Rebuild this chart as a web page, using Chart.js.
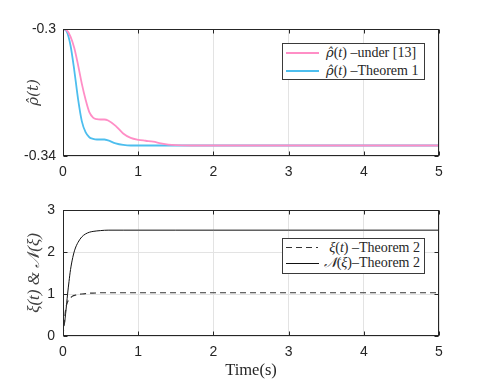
<!DOCTYPE html>
<html>
<head>
<meta charset="utf-8">
<script src="https://cdn.jsdelivr.net/npm/chart.js@4.4.1/dist/chart.umd.min.js"></script>
<style>
  body { margin: 0; background: #fff; width: 486px; height: 382px; overflow: hidden; position: relative; }
  .wrap { position: absolute; left: 0; width: 486px; }
  .lg-box { position: absolute; box-sizing: border-box; border: 1px solid #3a3a3a; background: #fff; }
  .lg-line { position: absolute; height: 0; }
  .lg-text { position: absolute; font-family: "Liberation Serif", serif; font-size: 14px; line-height: 18px; color: #262626; white-space: nowrap; }
  .hat { font-family: "DejaVu Serif", serif; font-size: 13px; }
</style>
</head>
<body>
<div class="wrap" style="top:0;height:190px"><canvas id="topChart" width="486" height="190"></canvas></div>
<div class="wrap" style="top:190px;height:192px"><canvas id="botChart" width="486" height="192"></canvas></div>

<!-- legends -->
<div class="lg-box" style="left:282px;top:43px;width:143px;height:37px"></div>
<div class="lg-line" style="left:286px;top:52px;width:33px;border-top:2px solid #ff8ec6"></div>
<div class="lg-text" style="left:326px;top:44px"><i class="hat">ρ̂</i>(<i>t</i>) –under [13]</div>
<div class="lg-line" style="left:286px;top:70px;width:33px;border-top:2px solid #4dbeee"></div>
<div class="lg-text" style="left:326px;top:61.5px"><i class="hat">ρ̂</i>(<i>t</i>) –Theorem 1</div>

<div class="lg-box" style="left:282px;top:238px;width:143px;height:36px"></div>
<div class="lg-line" style="left:286px;top:247px;width:32px;height:1px;background:repeating-linear-gradient(to right,#333 0 6px,transparent 6px 10px)"></div>
<div class="lg-text" style="right:66px;top:238.5px"><i>ξ</i>(<i>t</i>) –Theorem 2</div>
<div class="lg-line" style="left:286px;top:263px;width:33px;border-top:1px solid #111"></div>
<div class="lg-text" style="right:66px;top:254px"><i>𝒩</i>(<i>ξ</i>)–Theorem 2</div>

<script>
// top panel: rho-hat estimates
const timeTop = [0, 0.05, 0.1, 0.15, 0.2, 0.25, 0.3, 0.35, 0.4, 0.45, 0.5, 0.55, 0.6, 0.7, 0.8, 0.9, 1, 1.1, 1.2, 1.3, 1.4, 1.5, 1.7, 2, 3, 4, 5];
const rhoUnder13 = [-0.3, -0.3004, -0.3024, -0.306, -0.3113, -0.3172, -0.3222, -0.3262, -0.3279, -0.3284, -0.3285, -0.3285, -0.3288, -0.3305, -0.3329, -0.3343, -0.3349, -0.3352, -0.3355, -0.336, -0.3364, -0.3366, -0.3367, -0.3367, -0.3367, -0.3367, -0.3367];
const rhoThm1 = [-0.3, -0.3008, -0.3052, -0.313, -0.322, -0.329, -0.3325, -0.3341, -0.3346, -0.3348, -0.3348, -0.3348, -0.3351, -0.336, -0.3365, -0.3367, -0.3367, -0.3367, -0.3367, -0.3367, -0.3367, -0.3367, -0.3367, -0.3367, -0.3367, -0.3367, -0.3367];
const topYTicks = [-0.34, -0.3];

// bottom panel: xi(t) and N(xi)
const timeBot = [0, 0.01, 0.02, 0.03, 0.04, 0.05, 0.06, 0.08, 0.1, 0.13, 0.16, 0.2, 0.25, 0.3, 0.35, 0.4, 0.5, 0.6, 0.8, 1, 1.5, 2, 3, 4, 5];
const xiThm2 = [0, 0.2, 0.35, 0.55, 0.68, 0.76, 0.81, 0.87, 0.91, 0.95, 0.97, 0.99, 1.0, 1.01, 1.02, 1.02, 1.03, 1.03, 1.03, 1.03, 1.03, 1.03, 1.03, 1.03, 1.03];
const nXiThm2 = [0.15, 0.25, 0.3, 0.45, 0.62, 0.8, 0.98, 1.3, 1.58, 1.87, 2.07, 2.23, 2.36, 2.43, 2.47, 2.49, 2.51, 2.52, 2.52, 2.52, 2.52, 2.52, 2.52, 2.52, 2.52];

const xTicks = [0, 1, 2, 3, 4, 5];

const tickFont = { family: '"Liberation Sans", Arial, sans-serif', size: 14 };
const axisCol = '#262626';
const gridCol = '#e3e3e3';

function pts(xs, ys) {
    return xs.map((x, i) => ({ x: x, y: ys[i] }));
}

// axes box + inward tick marks, matlab style
const framePlugin = {
    id: 'frame',
    afterDatasetsDraw(chart) {
        const { ctx, chartArea: a, scales } = chart;
        const l = Math.round(a.left) + 0.5, r = Math.round(a.right) - 0.5;
        const t = Math.round(a.top) + 0.5, b = Math.round(a.bottom) - 0.5;
        ctx.save();
        ctx.strokeStyle = axisCol;
        ctx.lineWidth = 1;
        ctx.beginPath();
        scales.x.ticks.forEach(tk => {
            const px = Math.round(scales.x.getPixelForValue(tk.value)) + 0.5;
            ctx.moveTo(px, b); ctx.lineTo(px, b - 4);
            ctx.moveTo(px, t); ctx.lineTo(px, t + 4);
        });
        scales.y.ticks.forEach(tk => {
            const py = Math.round(scales.y.getPixelForValue(tk.value)) + 0.5;
            ctx.moveTo(l, py); ctx.lineTo(l + 4, py);
            ctx.moveTo(r, py); ctx.lineTo(r - 4, py);
        });
        ctx.stroke();
        ctx.strokeRect(l, t, r - l, b - t);
        ctx.restore();
    }
};

function makeChart(id, datasets, yOpts, xTitle, xHeight, padTop) {
    return new Chart(document.getElementById(id), {
        type: 'line',
        data: { datasets: datasets },
        options: {
            responsive: false,
            animation: false,
            devicePixelRatio: 1,
            layout: { padding: { top: padTop, right: 47, left: 0, bottom: 0 } },
            plugins: { legend: { display: false }, tooltip: { enabled: false } },
            elements: { point: { radius: 0 }, line: { cubicInterpolationMode: 'monotone' } },
            scales: {
                x: {
                    type: 'linear', min: 0, max: 5,
                    afterBuildTicks: s => { s.ticks = xTicks.map(v => ({ value: v })); },
                    afterFit: s => { s.height = xHeight; },
                    grid: { color: gridCol, drawTicks: false },
                    border: { display: false },
                    ticks: { font: tickFont, color: axisCol, padding: 8, maxRotation: 0 },
                    title: xTitle
                },
                y: Object.assign({
                    afterFit: s => { s.width = 63; },
                    grid: { color: gridCol, drawTicks: false },
                    border: { display: false },
                }, yOpts)
            }
        },
        plugins: [framePlugin]
    });
}

makeChart('topChart', [
    { label: 'ρ̂(t) –under [13]', data: pts(timeTop, rhoUnder13), borderColor: '#ff8ec6', borderWidth: 1.8 },
    { label: 'ρ̂(t) –Theorem 1', data: pts(timeTop, rhoThm1), borderColor: '#4dbeee', borderWidth: 1.8 }
], {
    min: -0.34, max: -0.3,
    afterBuildTicks: s => { s.ticks = topYTicks.map(v => ({ value: v })); },
    ticks: { font: tickFont, color: axisCol, padding: 7, callback: v => String(v) },
    title: { display: true, text: 'ρ̂(t)', color: '#404040', padding: { top: 25, bottom: 0 },
             font: { family: '"DejaVu Serif", serif', size: 15, style: 'italic' } }
}, { display: false }, 34, 29);

makeChart('botChart', [
    { label: 'ξ(t) –Theorem 2', data: pts(timeBot, xiThm2), borderColor: '#333', borderWidth: 1.2, borderDash: [6, 4] },
    { label: '𝒩(ξ)–Theorem 2', data: pts(timeBot, nXiThm2), borderColor: '#111', borderWidth: 1 }
], {
    min: 0, max: 3,
    ticks: { font: tickFont, color: axisCol, padding: 8, stepSize: 1 },
    title: { display: true, text: 'ξ(t) & 𝒩(ξ)', color: '#404040', padding: { top: 24, bottom: 0 },
             font: { family: '"Liberation Serif", serif', size: 17, style: 'italic' } }
}, { display: true, text: 'Time(s)', color: axisCol, padding: { top: 0, bottom: 1 },
     font: { family: '"Liberation Serif", serif', size: 16.5 } }, 46, 20);
</script>
</body>
</html>
